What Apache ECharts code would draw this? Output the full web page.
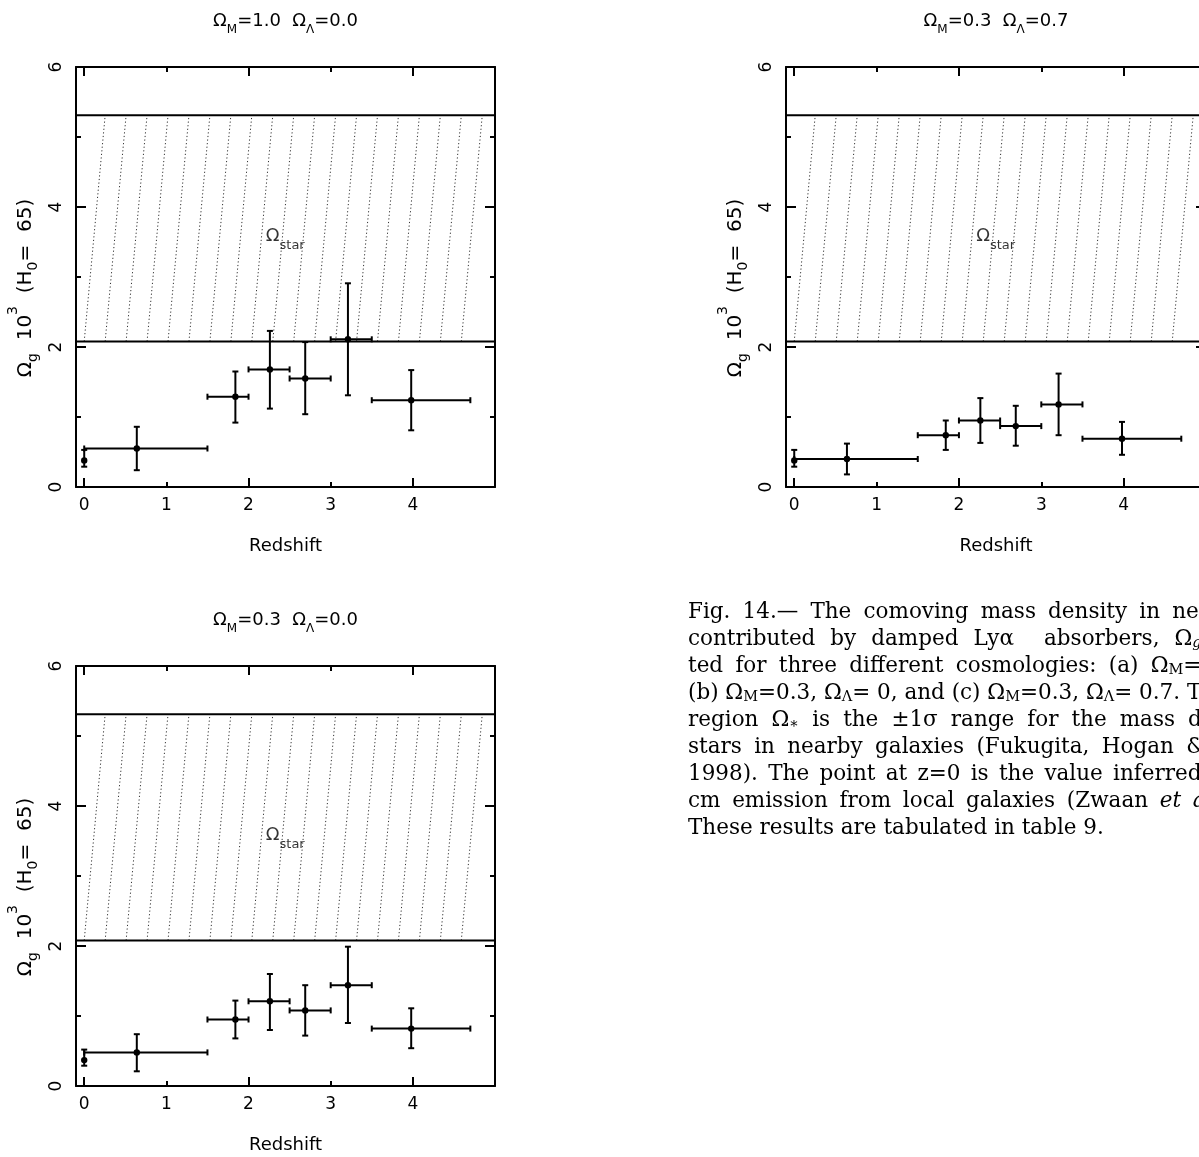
<!DOCTYPE html>
<html><head><meta charset="utf-8">
<script src="https://cdn.jsdelivr.net/npm/echarts@6/dist/echarts.min.js"></script>
<style>html,body{margin:0;padding:0;background:#fff;overflow:hidden}#c{width:1199px;height:1157px}</style>
</head><body><div id="c"></div>
<script>
// ---------------- data ----------------
const redshift   = [0, 0.64, 1.84, 2.26, 2.69, 3.21, 3.98];
const zBinLow    = [0, 0, 1.5, 2.0, 2.5, 3.0, 3.5];
const zBinHigh   = [0, 1.5, 2.0, 2.5, 3.0, 3.5, 4.7];

// (a) Omega_M=1.0 Omega_L=0.0
const omegaA    = [0.38, 0.55, 1.29, 1.68, 1.55, 2.11, 1.24];
const omegaALow = [0.29, 0.24, 0.92, 1.12, 1.04, 1.31, 0.81];
const omegaAHigh= [0.53, 0.86, 1.65, 2.23, 2.07, 2.91, 1.67];
// (c) Omega_M=0.3 Omega_L=0.7
const omegaC    = [0.38, 0.40, 0.74, 0.95, 0.87, 1.18, 0.69];
const omegaCLow = [0.29, 0.18, 0.53, 0.63, 0.59, 0.74, 0.46];
const omegaCHigh= [0.53, 0.62, 0.95, 1.27, 1.16, 1.62, 0.93];
// (b) Omega_M=0.3 Omega_L=0.0
const omegaB    = [0.37, 0.48, 0.95, 1.21, 1.08, 1.44, 0.82];
const omegaBLow = [0.29, 0.21, 0.68, 0.80, 0.72, 0.90, 0.54];
const omegaBHigh= [0.52, 0.74, 1.22, 1.60, 1.44, 1.99, 1.11];

const omegaStarLow = 2.08, omegaStarHigh = 5.31;
const omegaStarLabelPos = [2.21, 3.50];

const xTickLabels = [0, 1, 2, 3, 4];
const xMajorTicks = [0, 2, 4];
const xMinorTicks = [1, 3];
const yTickLabels = [0, 2, 4, 6];
const yMinorTicks = [1, 3, 5];

const panelTitles = [
  '{n|Ω}{s|M}{n|=1.0  Ω}{s|Λ}{n|=0.0}',
  '{n|Ω}{s|M}{n|=0.3  Ω}{s|Λ}{n|=0.7}',
  '{n|Ω}{s|M}{n|=0.3  Ω}{s|Λ}{n|=0.0}'
];
const yAxisTitle = '{n|Ω}{s|g}{n|  10}{p|3}{n|  (H}{s|0}{n|=  65)}';

// caption: segments [style, text]
const captionLines = [
  [['n', 'Fig. 14.— The comoving mass density in neutral gas']],
  [['n', 'contributed by damped Lyα  absorbers, Ω'], ['si', 'g'], ['n', '(z), plot-']],
  [['n', 'ted for three different cosmologies: (a) Ω'], ['s', 'M'], ['n', '=1, Ω'], ['s', 'Λ'], ['n', '=0,']],
  [['n', '(b) Ω'], ['s', 'M'], ['n', '=0.3, Ω'], ['s', 'Λ'], ['n', '= 0, and (c) Ω'], ['s', 'M'], ['n', '=0.3, Ω'], ['s', 'Λ'], ['n', '= 0.7. The hatched']],
  [['n', 'region Ω'], ['s', '∗'], ['n', ' is the ±1σ range for the mass density of']],
  [['n', 'stars in nearby galaxies (Fukugita, Hogan & Peebles']],
  [['n', '1998). The point at z=0 is the value inferred from 21']],
  [['n', 'cm emission from local galaxies (Zwaan '], ['i', 'et al.'], ['n', ' 1997).']],
  [['n', 'These results are tabulated in table 9.']]
];

// ---------------- layout ----------------
const SANS = 'DejaVu Sans';
const SERIF = 'DejaVu Serif';
const CAP_FS = 21.5, CAP_SUB_FS = 14.5, CAP_COL_W = 613;
const panels = [
  {left: 76,  top: 67,  width: 419, height: 420, vals: omegaA, lo: omegaALow, hi: omegaAHigh, title: panelTitles[0]},
  {left: 786, top: 67,  width: 420, height: 420, vals: omegaC, lo: omegaCLow, hi: omegaCHigh, title: panelTitles[1]},
  {left: 76,  top: 666, width: 419, height: 420, vals: omegaB, lo: omegaBLow, hi: omegaBHigh, title: panelTitles[2]}
];

const grids = [], xAxes = [], yAxes = [], series = [], graphics = [];
const black = '#000';
const LW = 2;

function xAxisDef(g, pos, ticks, len, withLine, withLabel) {
  return {
    gridIndex: g, type: 'value', min: -0.1, max: 5, position: pos,
    name: withLabel ? 'Redshift' : '', nameLocation: 'middle', nameGap: 50,
    nameTextStyle: {fontFamily: SANS, fontSize: 18, color: black},
    axisLine: {show: withLine, onZero: false, lineStyle: {color: black, width: LW}},
    axisTick: {show: true, inside: true, length: len, customValues: ticks, lineStyle: {color: black, width: LW}},
    axisLabel: {show: withLabel, customValues: xTickLabels, margin: 10, fontFamily: SANS, fontSize: 17, color: black},
    splitLine: {show: false}, minorTick: {show: false}
  };
}
function yAxisDef(g, pos, ticks, len, withLine, withLabel) {
  return {
    gridIndex: g, type: 'value', min: 0, max: 6, position: pos,
    name: withLabel ? yAxisTitle : '',
    nameLocation: 'middle', nameGap: 36, nameRotate: 90,
    nameTextStyle: {
      fontFamily: SANS, fontSize: 20, color: black, padding: [0, 22, 0, 0],
      rich: {
        n: {fontFamily: SANS, fontSize: 20, lineHeight: 24, padding: [0, 0, 4, 0], color: black, verticalAlign: 'bottom'},
        s: {fontFamily: SANS, fontSize: 14, lineHeight: 16, color: black, verticalAlign: 'bottom'},
        p: {fontFamily: SANS, fontSize: 14, lineHeight: 16, padding: [0, 0, 20, 0], color: black, verticalAlign: 'bottom'}
      }
    },
    axisLine: {show: withLine, onZero: false, lineStyle: {color: black, width: LW}},
    axisTick: {show: true, inside: true, length: len, customValues: ticks, lineStyle: {color: black, width: LW}},
    axisLabel: {show: withLabel, customValues: yTickLabels, rotate: 90, margin: 11, fontFamily: SANS, fontSize: 17, color: black},
    splitLine: {show: false}, minorTick: {show: false}
  };
}

function renderBand(params, api) {
  const cs = params.coordSys;
  const lo = api.value(0), hi = api.value(1);
  const yLo = api.coord([0, lo])[1], yHi = api.coord([0, hi])[1];
  const children = [];
  // dotted hatch lines (decorative fill pattern of the band)
  const step = 0.255;
  for (let k = 0; k <= 18; k++) {
    const b = api.coord([k * step, lo]);
    const t = api.coord([(k + 1) * step, hi]);
    children.push({type: 'line', shape: {x1: b[0], y1: b[1], x2: t[0], y2: t[1]},
      style: {stroke: '#333', lineWidth: 1, lineDash: [1.2, 2.4]}});
  }
  children.push({type: 'line', shape: {x1: cs.x, y1: yHi, x2: cs.x + cs.width, y2: yHi}, style: {stroke: black, lineWidth: LW}});
  children.push({type: 'line', shape: {x1: cs.x, y1: yLo, x2: cs.x + cs.width, y2: yLo}, style: {stroke: black, lineWidth: LW}});
  return {type: 'group', children};
}

function renderErr(params, api) {
  const z = api.value(0), y = api.value(1), zl = api.value(2), zh = api.value(3), yl = api.value(4), yh = api.value(5);
  const p = api.coord([z, y]);
  const pb = api.coord([z, yl]), pt = api.coord([z, yh]);
  const st = {stroke: black, lineWidth: 2};
  const cap = 3;
  const ln = (x1, y1, x2, y2) => ({type: 'line', shape: {x1, y1, x2, y2}, style: st});
  const ch = [];
  ch.push(ln(p[0], pb[1], p[0], pt[1]));
  ch.push(ln(p[0] - cap, pb[1], p[0] + cap, pb[1]));
  ch.push(ln(p[0] - cap, pt[1], p[0] + cap, pt[1]));
  if (zh > zl) {
    const pl = api.coord([zl, y]), ph = api.coord([zh, y]);
    ch.push(ln(pl[0], p[1], ph[0], p[1]));
    ch.push(ln(pl[0], p[1] - cap, pl[0], p[1] + cap));
    ch.push(ln(ph[0], p[1] - cap, ph[0], p[1] + cap));
  }
  ch.push({type: 'circle', shape: {cx: p[0], cy: p[1], r: 3.2}, style: {fill: black}});
  return {type: 'group', children: ch};
}

panels.forEach((P, g) => {
  grids.push({left: P.left, top: P.top, width: P.width, height: P.height, containLabel: false, outerBoundsMode: 'none', show: false});
  const base = xAxes.length;
  xAxes.push(xAxisDef(g, 'bottom', xMajorTicks, 9, true, true));
  xAxes.push(xAxisDef(g, 'bottom', xMinorTicks, 5, false, false));
  xAxes.push(xAxisDef(g, 'top', xMajorTicks, 9, true, false));
  xAxes.push(xAxisDef(g, 'top', xMinorTicks, 5, false, false));
  yAxes.push(yAxisDef(g, 'left', yTickLabels, 10, true, true));
  yAxes.push(yAxisDef(g, 'left', yMinorTicks, 5, false, false));
  yAxes.push(yAxisDef(g, 'right', yTickLabels, 10, true, false));
  yAxes.push(yAxisDef(g, 'right', yMinorTicks, 5, false, false));

  series.push({type: 'custom', xAxisIndex: base, yAxisIndex: base, renderItem: renderBand,
    data: [[omegaStarLow, omegaStarHigh]], encode: {x: -1, y: -1}, silent: true, z: 1});
  const rows = redshift.map((z, i) => [z, P.vals[i], zBinLow[i], zBinHigh[i], P.lo[i], P.hi[i]]);
  series.push({type: 'custom', xAxisIndex: base, yAxisIndex: base, renderItem: renderErr,
    data: rows, encode: {x: 0, y: 1}, z: 3});
  series.push({type: 'scatter', xAxisIndex: base, yAxisIndex: base, symbolSize: 0, data: [omegaStarLabelPos], z: 4,
    label: {show: true, position: 'right', distance: 0, formatter: '{n|Ω}{s|star}',
      rich: {
        n: {fontFamily: SANS, fontSize: 18, lineHeight: 20, padding: [0, 0, 7, 0], color: black, verticalAlign: 'bottom'},
        s: {fontFamily: SANS, fontSize: 13, lineHeight: 15, color: black, verticalAlign: 'bottom'}
      }}});

  graphics.push({type: 'text', x: P.left + P.width / 2, y: P.top - 41,
    style: {text: P.title, align: 'center', verticalAlign: 'middle', fill: black,
      rich: {
        n: {fontFamily: SANS, fontSize: 18, lineHeight: 20, padding: [0, 0, 6, 0], fill: black, verticalAlign: 'bottom'},
        s: {fontFamily: SANS, fontSize: 12, lineHeight: 14, fill: black, verticalAlign: 'bottom'}
      }}});
});

// ---- caption, justified to a column (text continues past the page edge) ----
const mctx = document.createElement('canvas').getContext('2d');
const fontOf = (st) => {
  const it = (st === 'i' || st === 'si') ? 'italic ' : '';
  const fs = (st === 's' || st === 'si') ? CAP_SUB_FS : CAP_FS;
  return it + fs + 'px "' + SERIF + '"';
};
const measure = (st, t) => { mctx.font = fontOf(st); return mctx.measureText(t).width; };
const spaceW = measure('n', ' ');
captionLines.forEach((segs, li) => {
  const justify = li < captionLines.length - 1;
  let natural = 0, gaps = 0;
  segs.forEach(([st, t]) => {
    natural += measure(st, t);
    if (st === 'n' || st === 'i') gaps += (t.match(/ /g) || []).length;
  });
  const extra = justify && gaps ? Math.max(0, (CAP_COL_W - natural) / gaps) : 0;
  let text = '';
  segs.forEach(([st, t]) => {
    if (st === 'n' || st === 'i') {
      t.split(' ').forEach((w, k) => {
        if (k > 0) text += '{g| }';
        if (w) text += '{' + st + '|' + w + '}';
      });
    } else {
      text += '{' + st + '|' + t + '}';
    }
  });
  const base = {fontFamily: SERIF, fontSize: CAP_FS, lineHeight: 24, padding: [0, 0, 1, 0], fill: black, verticalAlign: 'bottom'};
  graphics.push({type: 'text', x: 688, y: 612 + 27 * li,
    style: {text, align: 'left', verticalAlign: 'middle', fill: black,
      rich: {
        n: base,
        i: Object.assign({}, base, {fontStyle: 'italic'}),
        g: Object.assign({}, base, {width: spaceW + extra}),
        s: {fontFamily: SERIF, fontSize: CAP_SUB_FS, lineHeight: 17, fill: black, verticalAlign: 'bottom'},
        si: {fontFamily: SERIF, fontStyle: 'italic', fontSize: CAP_SUB_FS, lineHeight: 17, fill: black, verticalAlign: 'bottom'}
      }}});
});

const chart = echarts.init(document.getElementById('c'), null, {renderer: 'canvas'});
chart.setOption({
  animation: false,
  backgroundColor: '#fff',
  grid: grids, xAxis: xAxes, yAxis: yAxes, series: series, graphic: graphics
});
</script></body></html>
